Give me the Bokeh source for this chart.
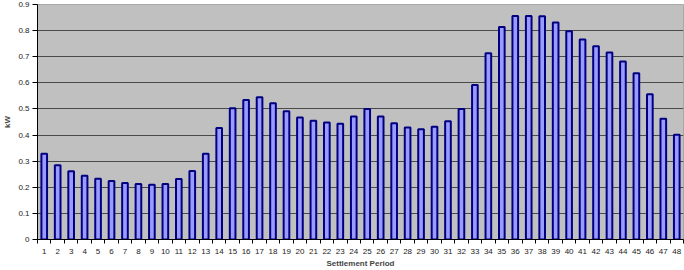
from bokeh.plotting import figure
from bokeh.models import ColumnDataSource, FixedTicker, Range1d
from bokeh.embed import file_html
from bokeh.resources import INLINE

periods = [1, 2, 3, 4, 5, 6, 7, 8, 9, 10, 11, 12, 13, 14, 15, 16, 17, 18, 19, 20, 21, 22, 23, 24,
           25, 26, 27, 28, 29, 30, 31, 32, 33, 34, 35, 36, 37, 38, 39, 40, 41, 42, 43, 44, 45, 46, 47, 48]
kw = [0.328, 0.284, 0.261, 0.244, 0.233, 0.224, 0.216, 0.213, 0.210, 0.213, 0.232, 0.262,
      0.328, 0.427, 0.503, 0.534, 0.545, 0.522, 0.491, 0.467, 0.455, 0.448, 0.443, 0.471,
      0.500, 0.471, 0.445, 0.429, 0.422, 0.432, 0.453, 0.500, 0.592, 0.713, 0.814, 0.856,
      0.856, 0.855, 0.831, 0.798, 0.766, 0.740, 0.716, 0.682, 0.637, 0.556, 0.462, 0.401]
y_ticks = [0, 0.1, 0.2, 0.3, 0.4, 0.5, 0.6, 0.7, 0.8, 0.9]
y_labels = ["0", "0.1", "0.2", "0.3", "0.4", "0.5", "0.6", "0.7", "0.8", "0.9"]
x_label = "Settlement Period"
y_label = "kW"

src = ColumnDataSource(dict(x=periods, top=kw))

p = figure(width=684, height=270, output_backend="svg", toolbar_location=None,
           x_range=Range1d(0.5, 48.5), y_range=Range1d(0, 0.9),
           min_border_left=0, min_border_right=1, min_border_top=4, min_border_bottom=0)

p.background_fill_color = "#C0C0C0"
p.border_fill_color = "white"
p.outline_line_color = "#A8A8A8"
p.outline_line_width = 1

p.vbar(x="x", top="top", bottom=0, width=0.42, source=src,
       fill_color="#9A9AFF", line_color="#000080", line_width=2)

font = "Liberation Sans"
p.xaxis.ticker = FixedTicker(ticks=periods, minor_ticks=[v - 0.5 for v in periods] + [48.5])
p.xaxis.major_tick_line_color = None
p.xaxis.minor_tick_line_color = "#000000"
p.xaxis.minor_tick_out = 4
p.xaxis.minor_tick_in = 0
p.xaxis.axis_line_color = "#000000"
p.xaxis.major_label_text_font = font
p.xaxis.major_label_text_font_size = "8px"
p.xaxis.major_label_text_color = "#222222"
p.xaxis.major_label_standoff = 3
p.xaxis.axis_label = x_label
p.xaxis.axis_label_text_font = font
p.xaxis.axis_label_text_font_size = "8px"
p.xaxis.axis_label_text_font_style = "bold"
p.xaxis.axis_label_standoff = 2

p.yaxis.ticker = FixedTicker(ticks=y_ticks)
p.yaxis.major_label_overrides = {t: l for t, l in zip(y_ticks, y_labels)}
p.yaxis.minor_tick_line_color = None
p.yaxis.major_tick_out = 5
p.yaxis.major_tick_in = 0
p.yaxis.axis_line_color = "#000000"
p.yaxis.major_label_text_font = font
p.yaxis.major_label_text_font_size = "8px"
p.yaxis.major_label_text_color = "#222222"
p.yaxis.major_label_standoff = 3
p.yaxis.axis_label = y_label
p.yaxis.axis_label_text_font = font
p.yaxis.axis_label_text_font_size = "8px"
p.yaxis.axis_label_text_font_style = "bold"
p.yaxis.axis_label_standoff = 3

p.xgrid.grid_line_color = None
p.ygrid.grid_line_color = "#4A4A4A"
p.ygrid.grid_line_width = 1

open("out.html", "w").write(file_html(p, INLINE))
